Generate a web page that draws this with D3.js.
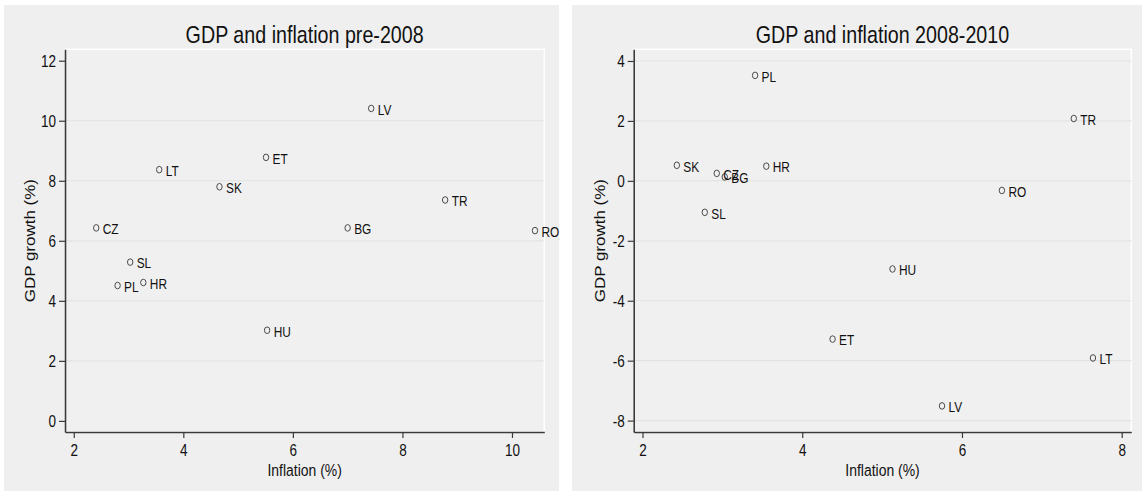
<!DOCTYPE html>
<html>
<head>
<meta charset="utf-8">
<script src="https://cdn.jsdelivr.net/npm/d3@7"></script>
<style>
  html, body { margin: 0; padding: 0; background: #ffffff; }
  svg { display: block; }
  text { font-family: 'Liberation Sans Narrow', 'Arial Narrow', 'Liberation Sans', Arial, sans-serif; fill: #111; }
</style>
</head>
<body>
<svg id="chart" width="1146" height="499"></svg>
<script>
// Country codes and values, pre-2008 averages
const preCountries = ["LV", "ET", "LT", "SK", "CZ", "BG", "TR", "RO", "SL", "PL", "HR", "HU"];
const preInflation = [7.43, 5.51, 3.56, 4.66, 2.41, 7.00, 8.78, 10.42, 3.03, 2.80, 3.27, 5.53];
const preGdp       = [10.41, 8.78, 8.37, 7.80, 6.43, 6.43, 7.36, 6.34, 5.29, 4.51, 4.61, 3.02];

// Country codes and values, 2008-2010 averages
const crisisCountries = ["PL", "TR", "SK", "HR", "CZ", "BG", "RO", "SL", "HU", "ET", "LT", "LV"];
const crisisInflation = [3.41, 7.40, 2.43, 3.55, 2.93, 3.03, 6.50, 2.78, 5.13, 4.38, 7.64, 5.75];
const crisisGdp       = [3.52, 2.08, 0.52, 0.49, 0.25, 0.13, -0.32, -1.05, -2.94, -5.28, -5.91, -7.51];

// Axis ticks
const preXTicks = [2, 4, 6, 8, 10];
const preYTicks = [0, 2, 4, 6, 8, 10, 12];
const preGridTicks = [2, 4, 6, 8, 10];
const crisisXTicks = [2, 4, 6, 8];
const crisisYTicks = [-8, -6, -4, -2, 0, 2, 4];
const crisisGridTicks = [-8, -6, -4, -2, 0, 2, 4];

// Titles
const titles = ["GDP and inflation pre-2008", "GDP and inflation 2008-2010"];
const xTitle = "Inflation (%)";
const yTitle = "GDP growth (%)";

// The whole figure is horizontally compressed: squeeze each text along screen x around its anchor
const SQUEEZE = 0.82;
function narrow(sel) {
  sel.each(function () {
    const t = d3.select(this);
    const x = +t.attr("x") || 0;
    const y = +t.attr("y") || 0;
    const prev = t.attr("transform") || "";
    t.attr("transform", `${prev} translate(${x},${y}) scale(${SQUEEZE},1)`)
      .attr("x", 0).attr("y", 0);
  });
}

const svg = d3.select("#chart");

const panels = [
  {
    title: titles[0],
    bg: { x0: 4, x1: 559, y0: 5, y1: 491 },
    plot: { left: 65, right: 544.3, top: 49.3, bottom: 432 },
    xDomain: [1.84, 10.59], yDomain: [-0.37, 12.38],
    xTicks: preXTicks, yTicks: preYTicks, grid: preGridTicks,
    yTitleX: 35,
    rows: preCountries.map((c, i) => ({ c, x: preInflation[i], y: preGdp[i] }))
  },
  {
    title: titles[1],
    bg: { x0: 572, x1: 1142, y0: 5, y1: 491 },
    plot: { left: 633.7, right: 1131.3, top: 49.3, bottom: 432 },
    xDomain: [1.89, 8.12], yDomain: [-8.38, 4.39],
    xTicks: crisisXTicks, yTicks: crisisYTicks, grid: crisisGridTicks,
    yTitleX: 605,
    rows: crisisCountries.map((c, i) => ({ c, x: crisisInflation[i], y: crisisGdp[i] }))
  }
];

panels.forEach(p => {
  const g = svg.append("g");
  const x = d3.scaleLinear().domain(p.xDomain).range([p.plot.left, p.plot.right]);
  const y = d3.scaleLinear().domain(p.yDomain).range([p.plot.bottom, p.plot.top]);

  // graph region background
  g.append("rect")
    .attr("x", p.bg.x0).attr("y", p.bg.y0)
    .attr("width", p.bg.x1 - p.bg.x0).attr("height", p.bg.y1 - p.bg.y0)
    .attr("fill", "#efefef");

  // plot region outline
  g.append("rect")
    .attr("x", p.plot.left).attr("y", p.plot.top)
    .attr("width", p.plot.right - p.plot.left).attr("height", p.plot.bottom - p.plot.top)
    .attr("fill", "#f0f0f0").attr("stroke", "#ffffff").attr("stroke-width", 1.5);

  // horizontal gridlines
  g.append("g").selectAll("line").data(p.grid).join("line")
    .attr("x1", p.plot.left).attr("x2", p.plot.right)
    .attr("y1", d => y(d)).attr("y2", d => y(d))
    .attr("stroke", "#e3e3e3").attr("stroke-width", 1.2);

  // title
  g.append("text")
    .attr("x", (p.plot.left + p.plot.right) / 2).attr("y", 43.3)
    .attr("text-anchor", "middle")
    .style("font-size", "24px")
    .text(p.title)
    .call(narrow);

  // y axis
  const yAxis = d3.axisLeft(y).tickValues(p.yTicks).tickFormat(d => String(d))
    .tickSizeInner(6).tickSizeOuter(0).tickPadding(3);
  const ya = g.append("g").attr("transform", `translate(${p.plot.left},0)`).call(yAxis);
  ya.select(".domain").attr("stroke", "#3a3a3a").attr("stroke-width", 1.6);
  ya.selectAll(".tick line").attr("stroke", "#3a3a3a").attr("stroke-width", 1.2);
  ya.selectAll(".tick text").style("font-size", "16.5px").attr("fill", "#111")
    .attr("font-family", null).attr("dy", "0.36em").call(narrow);

  // x axis
  const xAxis = d3.axisBottom(x).tickValues(p.xTicks).tickFormat(d => String(d))
    .tickSizeInner(6).tickSizeOuter(0).tickPadding(6);
  const xa = g.append("g").attr("transform", `translate(0,${p.plot.bottom})`).call(xAxis);
  xa.select(".domain").attr("stroke", "#3a3a3a").attr("stroke-width", 1.6);
  xa.selectAll(".tick line").attr("stroke", "#3a3a3a").attr("stroke-width", 1.2);
  xa.selectAll(".tick text").style("font-size", "16.5px").attr("fill", "#111")
    .attr("font-family", null).call(narrow);

  // axis titles
  g.append("text")
    .attr("x", (p.plot.left + p.plot.right) / 2).attr("y", 476)
    .attr("text-anchor", "middle")
    .style("font-size", "17px")
    .text(xTitle)
    .call(narrow);
  // rotated title: squeezed across its thickness (screen x), full length along y
  g.append("text")
    .attr("transform", `translate(${p.yTitleX},${(p.plot.top + p.plot.bottom) / 2}) rotate(-90) scale(1,${SQUEEZE})`)
    .attr("text-anchor", "middle")
    .style("font-size", "17px")
    .text(yTitle);

  // markers and country labels
  const pts = g.append("g");
  pts.selectAll("ellipse").data(p.rows).join("ellipse")
    .attr("cx", d => x(d.x)).attr("cy", d => y(d.y))
    .attr("rx", 3.3 * SQUEEZE).attr("ry", 3.3)
    .attr("fill", "none").attr("stroke", "#4a4a4a").attr("stroke-width", 1);
  pts.selectAll("text").data(p.rows).join("text")
    .attr("x", d => x(d.x) + 6.5).attr("y", d => y(d.y) + 6.3)
    .style("font-size", "14.5px").attr("fill", "#1a1a1a")
    .text(d => d.c)
    .call(narrow);
});
</script>
</body>
</html>
